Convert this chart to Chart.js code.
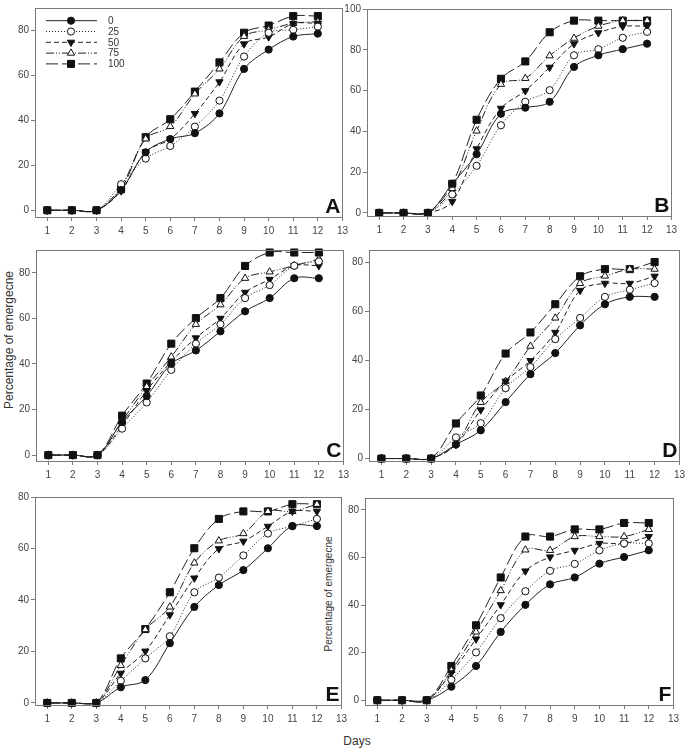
<!DOCTYPE html>
<html>
<head>
<meta charset="utf-8">
<script src="https://cdn.jsdelivr.net/npm/chart.js@4.4.0/dist/chart.umd.min.js"></script>
<style>
body{margin:0;background:#fff;width:685px;height:751px;position:relative;overflow:hidden;font-family:"Liberation Sans",Arial,sans-serif}
.panel{position:absolute}
.lbl{position:absolute;color:#333;white-space:nowrap;transform:translate(-50%,-50%)}
.rot{transform:translate(-50%,-50%) rotate(-90deg)}
</style>
</head>
<body>
<div class="lbl rot" style="left:9px;top:340px;font-size:12px">Percentage of emergecne</div>
<div class="lbl rot" style="left:328px;top:594px;font-size:10px">Percentage of emergecne</div>
<div class="lbl" style="left:357px;top:741px;font-size:12px">Days</div>
<script>
// days after sowing, and the doses shown in the legend
const days = [1, 2, 3, 4, 5, 6, 7, 8, 9, 10, 11, 12];
const xTicks = [1, 2, 3, 4, 5, 6, 7, 8, 9, 10, 11, 12, 13];
const doses = ['0', '25', '50', '75', '100'];
const yTicks80 = [0, 20, 40, 60, 80];
const yTicks100 = [0, 20, 40, 60, 80, 100];

// percentage of emergence
const A_0   = [0, 0, 0, 9.0, 25.8, 31.7, 34.3, 43.1, 62.9, 71.5, 77.3, 78.6];
const A_25  = [0, 0, 0, 11.6, 23.0, 28.6, 37.2, 48.8, 68.4, 79.0, 80.3, 81.7];
const A_50  = [0, 0, 0, 8.6, 26.0, 31.7, 43.0, 57.1, 74.0, 77.1, 83.0, 83.2];
const A_75  = [0, 0, 0, 10.5, 31.8, 37.3, 51.8, 62.9, 77.4, 80.3, 83.2, 83.9];
const A_100 = [0, 0, 0, 9.4, 32.5, 40.5, 52.8, 65.8, 79.0, 82.2, 86.4, 86.4];

const B_0   = [0, 0, 0, 14.3, 28.8, 48.6, 51.6, 54.5, 71.6, 77.3, 80.3, 83.0];
const B_25  = [0, 0, 0, 9.1, 23.1, 43.0, 54.5, 60.2, 77.3, 80.3, 85.9, 88.8];
const B_50  = [0, 0, 0, 5.6, 31.4, 51.3, 59.9, 71.4, 82.9, 88.3, 91.5, 91.5];
const B_75  = [0, 0, 0, 12.0, 40.2, 63.1, 66.0, 77.1, 85.7, 91.6, 94.3, 94.3];
const B_100 = [0, 0, 0, 14.3, 45.7, 65.8, 74.3, 88.6, 94.3, 94.3, 94.3, 94.3];

const C_0   = [0, 0, 0, 14.6, 25.9, 40.0, 45.9, 54.3, 63.1, 68.9, 77.6, 77.6];
const C_25  = [0, 0, 0, 11.6, 23.1, 37.4, 48.9, 57.4, 68.9, 74.6, 83.1, 85.0];
const C_50  = [0, 0, 0, 13.0, 28.3, 41.0, 51.4, 60.0, 71.4, 77.1, 83.1, 83.1];
const C_75  = [0, 0, 0, 15.0, 30.0, 43.1, 57.4, 66.0, 77.6, 80.4, 83.1, 86.0];
const C_100 = [0, 0, 0, 17.3, 31.4, 48.9, 60.1, 68.9, 83.0, 88.9, 88.9, 88.9];

const D_0   = [0, 0, 0, 5.7, 11.5, 23.0, 34.4, 43.0, 54.3, 62.9, 65.9, 65.9];
const D_25  = [0, 0, 0, 8.6, 14.4, 28.7, 37.3, 48.7, 57.3, 65.9, 68.8, 71.5];
const D_50  = [0, 0, 0, 5.7, 19.8, 31.5, 39.9, 51.4, 68.5, 71.4, 71.4, 74.3];
const D_75  = [0, 0, 0, 6.0, 22.9, 31.5, 45.8, 57.3, 71.4, 74.4, 77.2, 77.2];
const D_100 = [0, 0, 0, 14.3, 25.7, 42.8, 51.4, 62.9, 74.3, 77.2, 77.2, 80.1];

const E_0   = [0, 0, 0, 6.1, 8.9, 23.2, 37.3, 45.8, 51.6, 60.1, 68.7, 68.7];
const E_25  = [0, 0, 0, 8.6, 17.3, 25.9, 43.0, 48.7, 57.3, 65.8, 68.7, 71.5];
const E_50  = [0, 0, 0, 11.5, 20.1, 34.2, 48.5, 59.9, 62.8, 68.6, 74.4, 74.4];
const E_75  = [0, 0, 0, 14.6, 28.5, 37.3, 54.4, 63.0, 65.8, 74.4, 74.4, 77.2];
const E_100 = [0, 0, 0, 17.3, 28.7, 43.0, 60.1, 71.5, 74.4, 74.4, 77.2, 77.2];

const F_0   = [0, 0, 0, 5.7, 14.4, 28.7, 40.1, 48.7, 51.6, 57.4, 60.2, 63.0];
const F_25  = [0, 0, 0, 8.6, 20.1, 34.5, 45.8, 54.4, 57.3, 63.0, 65.9, 65.9];
const F_50  = [0, 0, 0, 11.5, 25.7, 40.1, 54.3, 60.2, 63.0, 65.9, 65.9, 68.8];
const F_75  = [0, 0, 0, 12.5, 28.7, 46.1, 63.2, 63.0, 68.8, 68.8, 68.8, 71.8];
const F_100 = [0, 0, 0, 14.4, 31.5, 51.6, 68.8, 68.8, 71.8, 71.8, 74.5, 74.5];

// line + marker style for each dose
const styles = [
  { pointStyle: 'circle', pointRadius: 3.6, pointBackgroundColor: '#111', borderDash: [] },
  { pointStyle: 'circle', pointRadius: 3.6, pointBackgroundColor: '#fff', borderDash: [1, 2] },
  { pointStyle: 'triangle', pointRotation: 180, pointRadius: 4.2, pointBackgroundColor: '#111', borderDash: [5, 3] },
  { pointStyle: 'triangle', pointRadius: 4.2, pointBackgroundColor: '#fff', borderDash: [8, 2, 1, 2, 1, 2] },
  { pointStyle: 'rect', pointRadius: 5, pointBackgroundColor: '#111', borderDash: [12, 4] }
];

// frame of every panel on the page (left, top, right, bottom)
const panels = [
  { name: 'A', series: [A_0, A_25, A_50, A_75, A_100], yMin: -3,   yMax: 90,  yTicks: yTicks80,  L: 35,  T: 3,   R: 344, B: 217, legend: true },
  { name: 'B', series: [B_0, B_25, B_50, B_75, B_100], yMin: -1.5, yMax: 100, yTicks: yTicks100, L: 367, T: 4,   R: 673, B: 216 },
  { name: 'C', series: [C_0, C_25, C_50, C_75, C_100], yMin: -2.6, yMax: 90,  yTicks: yTicks80,  L: 36,  T: 245, R: 345, B: 461 },
  { name: 'D', series: [D_0, D_25, D_50, D_75, D_100], yMin: -1,   yMax: 85,  yTicks: yTicks80,  L: 369, T: 245, R: 681, B: 461 },
  { name: 'E', series: [E_0, E_25, E_50, E_75, E_100], yMin: -0.8, yMax: 80,  yTicks: yTicks80,  L: 35,  T: 492, R: 343, B: 705 },
  { name: 'F', series: [F_0, F_25, F_50, F_75, F_100], yMin: -2,   yMax: 85,  yTicks: yTicks80,  L: 365, T: 493, R: 675, B: 705 }
];

const AXIS_W = 35, AXIS_H = 22, PAD_T = 3, PAD_R = 8;

function drawMarker(ctx, st, x, y) {
  const r = st.pointRadius;
  ctx.beginPath();
  if (st.pointStyle === 'circle') {
    ctx.arc(x, y, r, 0, Math.PI * 2);
  } else if (st.pointStyle === 'rect') {
    const s = r * Math.SQRT1_2;
    ctx.rect(x - s, y - s, 2 * s, 2 * s);
  } else {
    const dir = st.pointRotation === 180 ? -1 : 1;
    ctx.moveTo(x, y - dir * r);
    ctx.lineTo(x + r * 0.866, y + dir * r * 0.5);
    ctx.lineTo(x - r * 0.866, y + dir * r * 0.5);
    ctx.closePath();
  }
  ctx.fillStyle = st.pointBackgroundColor;
  ctx.fill();
  ctx.strokeStyle = '#111';
  ctx.lineWidth = 1;
  ctx.setLineDash([]);
  ctx.stroke();
}

const framePlugin = {
  id: 'frame',
  afterDraw(chart, args, opts) {
    const { ctx, chartArea: a } = chart;
    ctx.save();
    ctx.strokeStyle = '#7a7a7a';
    ctx.lineWidth = 1;
    ctx.strokeRect(Math.round(a.left) + 0.5, Math.round(a.top) + 0.5,
      Math.round(a.right - a.left), Math.round(a.bottom - a.top));
    // panel letter
    ctx.fillStyle = '#111';
    ctx.font = 'bold 21px "Liberation Sans", Arial, sans-serif';
    ctx.textAlign = 'right';
    ctx.textBaseline = 'alphabetic';
    ctx.fillText(opts.letter, a.right - 2, a.bottom - 4);
    // legend (panel A only)
    if (opts.legend) {
      ctx.font = '10px "Liberation Sans", Arial, sans-serif';
      ctx.textAlign = 'left';
      ctx.textBaseline = 'middle';
      doses.forEach((d, i) => {
        const y = a.top + 12.7 + i * 10.8;
        ctx.beginPath();
        ctx.setLineDash(styles[i].borderDash);
        ctx.strokeStyle = '#222';
        ctx.moveTo(a.left + 11, y);
        ctx.lineTo(a.left + 62, y);
        ctx.stroke();
        drawMarker(ctx, styles[i], a.left + 36, y);
        ctx.fillStyle = '#333';
        ctx.fillText(d, a.left + 73, y + 0.5);
      });
    }
    ctx.restore();
  }
};

function makePanel(p) {
  const w = p.R - p.L + AXIS_W + PAD_R;
  const h = p.B - p.T + PAD_T + AXIS_H;
  const box = document.createElement('div');
  box.className = 'panel';
  box.style.left = (p.L - AXIS_W) + 'px';
  box.style.top = (p.T - PAD_T) + 'px';
  const cv = document.createElement('canvas');
  cv.width = w;
  cv.height = h;
  box.appendChild(cv);
  document.body.appendChild(box);

  const tickFont = { family: '"Liberation Sans", Arial, sans-serif', size: 10 };
  const gridOpts = { display: true, drawOnChartArea: false, drawTicks: true, tickLength: 4, color: '#7a7a7a' };

  new Chart(cv, {
    type: 'line',
    data: {
      datasets: p.series.map((vals, i) => Object.assign({
        label: doses[i],
        data: days.map((d, j) => ({ x: d, y: vals[j] })),
        borderColor: '#222',
        borderWidth: 1,
        pointBorderColor: '#111',
        pointBorderWidth: 1,
        tension: 0.35,
        clip: false,
        fill: false
      }, styles[i]))
    },
    options: {
      responsive: false,
      animation: false,
      layout: { padding: { top: PAD_T, right: PAD_R, left: 0, bottom: 0 } },
      plugins: {
        legend: { display: false },
        tooltip: { enabled: false },
        frame: { letter: p.name, legend: !!p.legend }
      },
      scales: {
        x: {
          type: 'linear', min: 0.5, max: 13,
          afterBuildTicks: s => { s.ticks = xTicks.map(v => ({ value: v })); },
          afterFit: s => { s.height = AXIS_H; },
          grid: gridOpts,
          border: { display: false },
          ticks: { font: tickFont, color: '#444', padding: 4, maxRotation: 0, autoSkip: false }
        },
        y: {
          type: 'linear', min: p.yMin, max: p.yMax,
          afterBuildTicks: s => { s.ticks = p.yTicks.map(v => ({ value: v })); },
          afterFit: s => { s.width = AXIS_W; },
          grid: gridOpts,
          border: { display: false },
          ticks: { font: tickFont, color: '#444', padding: 2 }
        }
      }
    },
    plugins: [framePlugin]
  });
}

panels.forEach(makePanel);
</script>
</body>
</html>
